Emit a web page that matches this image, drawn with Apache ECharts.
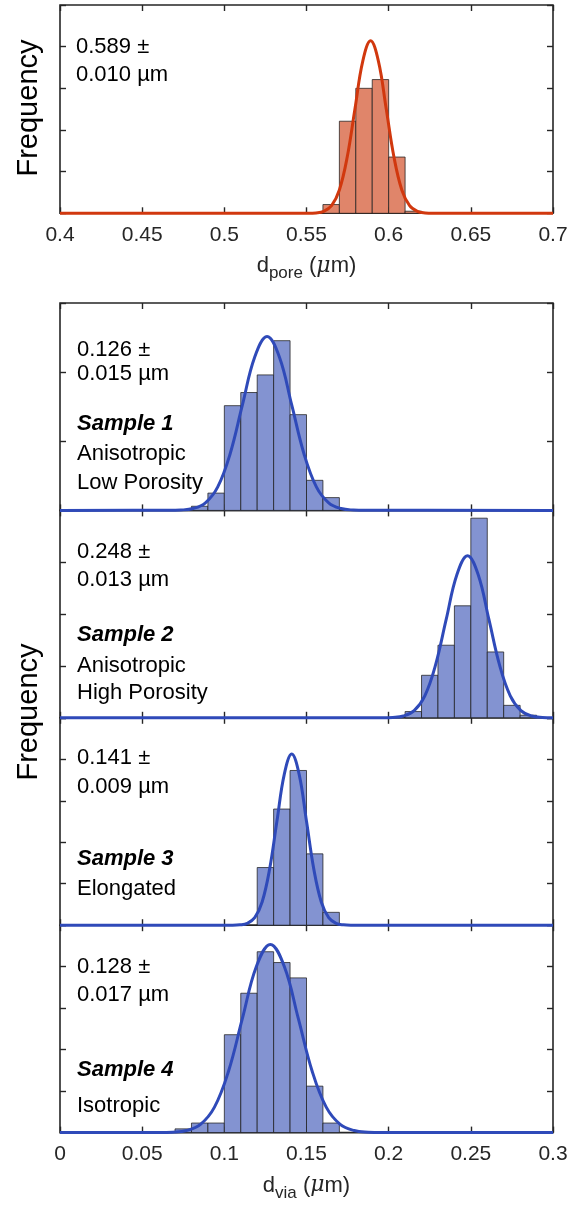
<!DOCTYPE html>
<html><head><meta charset="utf-8">
<script src="https://cdn.jsdelivr.net/npm/echarts@6/dist/echarts.min.js"></script>
<style>html,body{margin:0;padding:0;background:#fff}#c{width:571px;height:1205px}</style>
</head><body><div id="c"></div>
<script>
// ---- data ----
const poreTicks = [0.4, 0.45, 0.5, 0.55, 0.6, 0.65, 0.7];
const viaTicks = [0, 0.05, 0.1, 0.15, 0.2, 0.25, 0.3];

const poreBinEdges = [0.56, 0.57, 0.58, 0.59, 0.60, 0.61, 0.62];
const poreCounts = [2.1, 22.1, 30.0, 32.1, 13.5, 0.5];
const poreFitX = [0.4, 0.551, 0.55575, 0.5605, 0.56525, 0.570, 0.57475, 0.5795, 0.58425, 0.589, 0.59375, 0.5985, 0.60325, 0.608, 0.61275, 0.6175, 0.62225, 0.627, 0.7];
const poreFitY = [0, 0.01, 0.09, 0.46, 1.82, 5.60, 13.44, 25.11, 36.54, 41.4, 36.54, 25.11, 13.44, 5.60, 1.82, 0.46, 0.09, 0.01, 0];

const s1Edges = [0.08, 0.09, 0.10, 0.11, 0.12, 0.13, 0.14, 0.15, 0.16, 0.17];
const s1Counts = [1.2, 5.0, 30.3, 34.1, 39.2, 49.1, 27.7, 8.7, 3.7];
const s1FitX = [0, 0.066, 0.0735, 0.081, 0.0885, 0.096, 0.1035, 0.111, 0.1185, 0.126, 0.1335, 0.141, 0.1485, 0.156, 0.1635, 0.171, 0.1785, 0.186, 0.3];
const s1FitY = [0, 0.02, 0.11, 0.56, 2.21, 6.81, 16.33, 30.51, 44.39, 50.3, 44.39, 30.51, 16.33, 6.81, 2.21, 0.56, 0.11, 0.02, 0];

const s2Edges = [0.21, 0.22, 0.23, 0.24, 0.25, 0.26, 0.27, 0.28, 0.29];
const s2Counts = [1.2, 8.2, 14.0, 21.6, 38.5, 12.7, 2.4, 0.5];
const s2FitX = [0, 0.196, 0.2025, 0.209, 0.2155, 0.222, 0.2285, 0.235, 0.2415, 0.248, 0.2545, 0.261, 0.2675, 0.274, 0.2805, 0.287, 0.2935, 0.3];
const s2FitY = [0, 0.01, 0.07, 0.35, 1.37, 4.23, 10.15, 18.97, 27.60, 31.27, 27.60, 18.97, 10.15, 4.23, 1.37, 0.35, 0.07, 0.01];

const s3Edges = [0.12, 0.13, 0.14, 0.15, 0.16, 0.17];
const s3Counts = [13.9, 28.0, 37.3, 17.2, 3.1];
const s3FitX = [0, 0.105, 0.1095, 0.114, 0.1185, 0.123, 0.1275, 0.132, 0.1365, 0.141, 0.1455, 0.150, 0.1545, 0.159, 0.1635, 0.168, 0.1725, 0.177, 0.3];
const s3FitY = [0, 0.01, 0.09, 0.46, 1.81, 5.59, 13.40, 25.04, 36.43, 41.28, 36.43, 25.04, 13.40, 5.59, 1.81, 0.46, 0.09, 0.01, 0];

const s4Edges = [0.07, 0.08, 0.09, 0.10, 0.11, 0.12, 0.13, 0.14, 0.15, 0.16, 0.17];
const s4Counts = [0.9, 2.3, 2.3, 23.6, 33.6, 43.6, 41.0, 37.3, 11.2, 2.3];
const s4FitX = [0, 0.060, 0.0685, 0.077, 0.0855, 0.094, 0.1025, 0.111, 0.1195, 0.128, 0.1365, 0.145, 0.1535, 0.162, 0.1705, 0.179, 0.1875, 0.196, 0.3];
const s4FitY = [0, 0.01, 0.10, 0.50, 1.99, 6.14, 14.73, 27.52, 40.04, 45.37, 40.04, 27.52, 14.73, 6.14, 1.99, 0.50, 0.10, 0.01, 0];

const yMax = [50, 60, 40, 50, 50];
const yInterval = [10, 20, 10, 10, 10];

const poreStats = ['0.589 ±', '0.010 µm'];
const sampleTexts = [
  ['0.126 ±', '0.015 µm', 'Sample 1', 'Anisotropic', 'Low Porosity'],
  ['0.248 ±', '0.013 µm', 'Sample 2', 'Anisotropic', 'High Porosity'],
  ['0.141 ±', '0.009 µm', 'Sample 3', 'Elongated'],
  ['0.128 ±', '0.017 µm', 'Sample 4', 'Isotropic']
];

// ---- layout ----
const FONT = '"Liberation Sans", Arial, Helvetica, sans-serif';
const DARK = '#262626';
const L = 60, W = 493;
const panelTop = 303, panelH = 207.4;
const grids = [{left: L, top: 5, width: W, height: 208.3}];
for (let i = 0; i < 4; i++) grids.push({left: L, top: panelTop + i * panelH, width: W, height: panelH});
grids.forEach(g => { g.show = true; g.borderColor = DARK; g.borderWidth = 1.6; g.backgroundColor = 'transparent'; g.containLabel = false; });

const hist = [
  {edges: poreBinEdges, counts: poreCounts, fx: poreFitX, fy: poreFitY, fill: '#E0856A', line: '#D1380E'},
  {edges: s1Edges, counts: s1Counts, fx: s1FitX, fy: s1FitY, fill: '#8393D1', line: '#2F4AB9'},
  {edges: s2Edges, counts: s2Counts, fx: s2FitX, fy: s2FitY, fill: '#8393D1', line: '#2F4AB9'},
  {edges: s3Edges, counts: s3Counts, fx: s3FitX, fy: s3FitY, fill: '#8393D1', line: '#2F4AB9'},
  {edges: s4Edges, counts: s4Counts, fx: s4FitX, fy: s4FitY, fill: '#8393D1', line: '#2F4AB9'}
];

const xAxes = [], yAxes = [], series = [];
const tick = () => ({show: true, inside: true, length: 6, lineStyle: {color: DARK, width: 1.4}});
hist.forEach((h, gi) => {
  const isPore = gi === 0;
  const ticks = isPore ? poreTicks : viaTicks;
  const showLabel = gi === 0 || gi === 4;
  const xb = () => ({
    type: 'value', gridIndex: gi, min: ticks[0], max: ticks[ticks.length - 1],
    interval: ticks[1] - ticks[0], axisLine: {show: false, onZero: false}, splitLine: {show: false},
    axisTick: tick()
  });
  xAxes.push(Object.assign(xb(), {
    position: 'bottom',
    axisLabel: {show: showLabel, margin: 11, fontSize: 21, color: DARK, fontFamily: FONT,
      formatter: v => String(+v.toFixed(2))},
    name: showLabel ? (isPore ? '{d|d}{s|pore} ({m|μ}m)' : '{d|d}{s|via} ({m|μ}m)') : '',
    nameLocation: 'middle', nameGap: 37,
    nameTextStyle: {color: DARK, fontFamily: FONT, fontSize: 22,
      rich: {d: {fontSize: 22, fontFamily: FONT, color: DARK},
             s: {fontSize: 17, fontFamily: FONT, color: DARK, padding: [15, 0, 0, 0]},
             m: {fontSize: 22, fontFamily: '"DejaVu Serif", serif', fontStyle: 'italic', color: DARK}}}
  }));
  xAxes.push(Object.assign(xb(), {position: 'top', axisLabel: {show: false}}));
  const yb = () => ({type: 'value', gridIndex: gi, min: 0, max: yMax[gi], interval: yInterval[gi],
    axisLine: {show: false, onZero: false}, splitLine: {show: false}, axisLabel: {show: false}, axisTick: tick()});
  yAxes.push(Object.assign(yb(), {position: 'left'}));
  yAxes.push(Object.assign(yb(), {position: 'right'}));

  const barData = h.counts.map((c, i) => [h.edges[i], h.edges[i + 1], c]);
  series.push({
    type: 'custom', xAxisIndex: gi * 2, yAxisIndex: gi * 2, z: 2,
    data: barData,
    renderItem: (params, api) => {
      const p0 = api.coord([api.value(0), api.value(2)]);
      const p1 = api.coord([api.value(1), 0]);
      return {type: 'rect', shape: {x: p0[0], y: p0[1], width: p1[0] - p0[0], height: p1[1] - p0[1]},
        style: {fill: h.fill, stroke: 'rgba(30,30,30,0.75)', lineWidth: 1}};
    }
  });
  series.push({
    type: 'line', xAxisIndex: gi * 2, yAxisIndex: gi * 2, z: 5, clip: false,
    data: h.fx.map((x, i) => [x, h.fy[i]]),
    smooth: 0.4, showSymbol: false, symbol: 'none',
    lineStyle: {color: h.line, width: 3}
  });
});

// ---- text annotations ----
const graphic = [];
const TS = 22;
function addText(txt, x, y, bold) {
  graphic.push({type: 'text', left: x, top: y - TS * 0.55 + 3, z: 10,
    style: {text: txt, fill: '#000', font: (bold ? 'italic bold ' : '') + TS + 'px ' + FONT}});
}
addText(poreStats[0], 76, 45); addText(poreStats[1], 76, 73);
const ys = [[348, 372, 422, 452, 481], [550, 578, 633, 664, 691], [756, 785, 857, 887], [965, 993, 1068, 1104]];
sampleTexts.forEach((lines, p) => lines.forEach((t, i) => addText(t, 77, ys[p][i], i === 2)));
graphic.push({type: 'text', rotation: Math.PI / 2, x: 14, y: 108, z: 10,
  style: {text: 'Frequency', font: '29px ' + FONT, fill: '#000', textAlign: 'center', textVerticalAlign: 'top'}});
graphic.push({type: 'text', rotation: Math.PI / 2, x: 14, y: 712, z: 10,
  style: {text: 'Frequency', font: '29px ' + FONT, fill: '#000', textAlign: 'center', textVerticalAlign: 'top'}});

const chart = echarts.init(document.getElementById('c'), null, {renderer: 'canvas'});
chart.setOption({animation: false, grid: grids, xAxis: xAxes, yAxis: yAxes, series: series, graphic: graphic});
</script></body></html>
